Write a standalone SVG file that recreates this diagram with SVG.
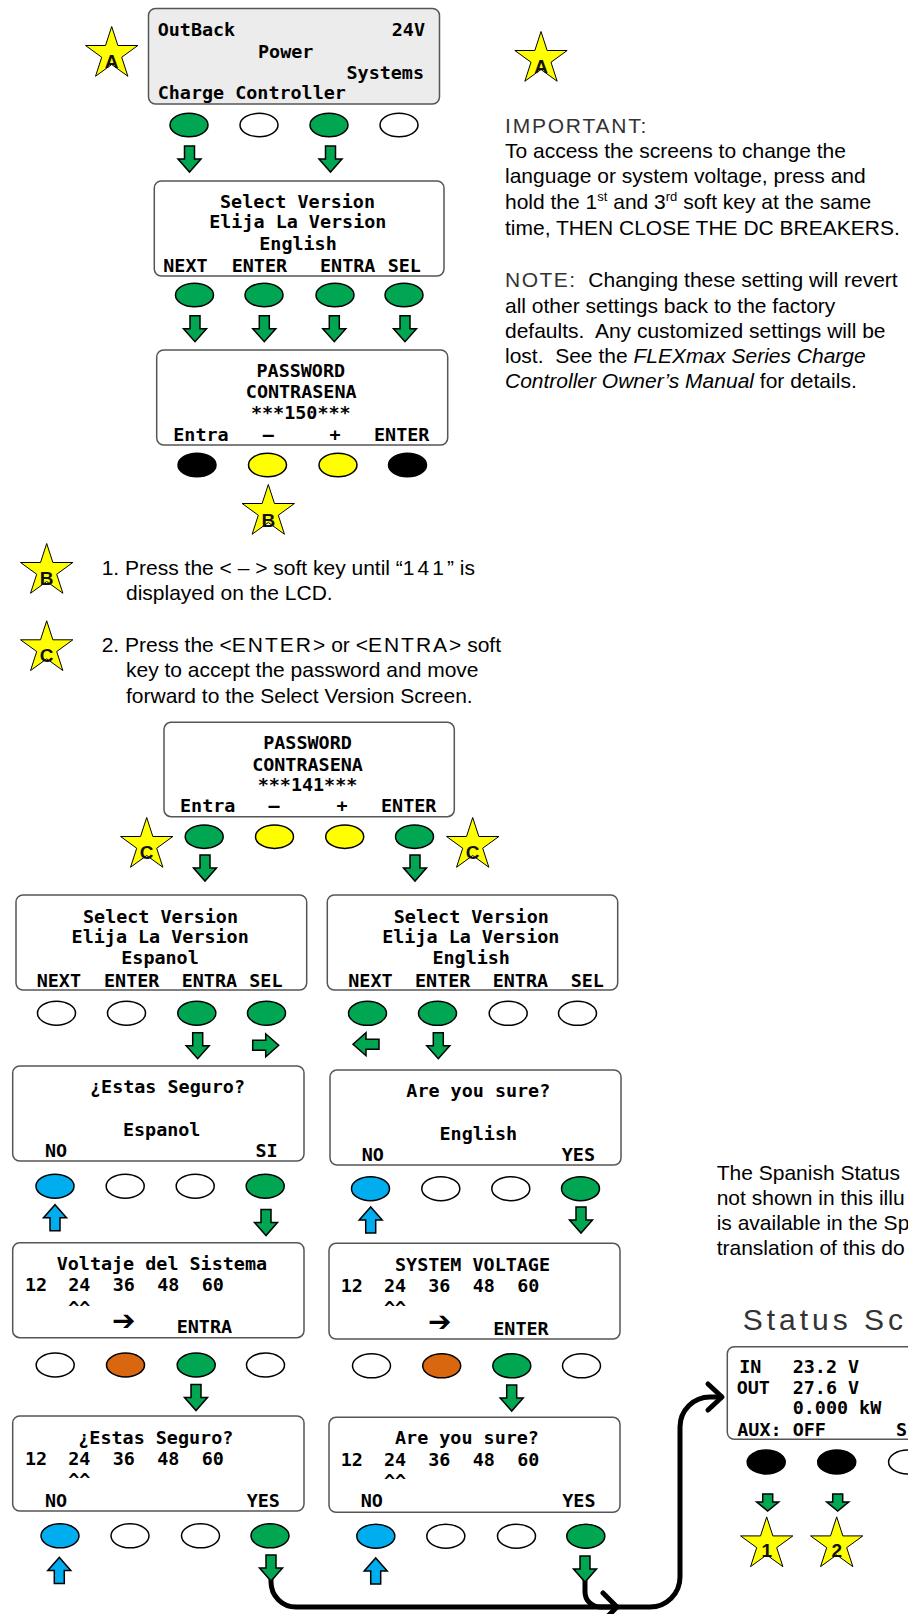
<svg xmlns="http://www.w3.org/2000/svg" xmlns:xlink="http://www.w3.org/1999/xlink" width="908" height="1614" viewBox="0 0 908 1614">
<defs>
<style>
.lcd{fill:#fff;stroke:#555;stroke-width:1.5}
.m{font-family:"DejaVu Sans Mono","Liberation Mono",monospace;font-weight:bold;font-size:18.4px;fill:#000}
.c{text-anchor:middle}
.e{text-anchor:end}
.t{font-family:"Liberation Sans",Arial,sans-serif;font-size:21px;fill:#000}
.ttl{font-family:"Liberation Sans",Arial,sans-serif;font-size:30px;letter-spacing:4px;fill:#333}
.h{fill:#333}
.i{font-style:italic}
.k{stroke:#000;stroke-width:1.5}
.g{fill:#00A651}
.w{fill:#fff}
.y{fill:#FFFF00}
.b{fill:#000}
.bl{fill:#00AEEF}
.o{fill:#D9670F}
.st{fill:#FFFF00;stroke:#000;stroke-width:1}
.sl{font-family:"Liberation Sans",Arial,sans-serif;font-weight:bold;font-size:19px;text-anchor:middle;fill:#111}
.ar{stroke:#000;stroke-width:1.5;stroke-linejoin:miter}
.ln{fill:none;stroke:#000;stroke-width:5;stroke-linecap:round;stroke-linejoin:round}
.sym{font-family:"DejaVu Sans",sans-serif;font-weight:bold;font-size:28px}
</style>
<path id="star" d="M0,-27.5 L6.17,-8.49 L26.15,-8.5 L9.99,3.24 L16.16,22.25 L0,10.5 L-16.16,22.25 L-9.99,3.24 L-26.15,-8.5 L-6.17,-8.49 Z"/>
<path id="ad" d="M-5,0 H5 V13 H11.5 L0,26 L-11.5,13 H-5 Z"/>
<path id="as" d="M-5,0 H5 V8 H11 L0,17 L-11,8 H-5 Z"/>
</defs>
<rect width="908" height="1614" fill="#fff"/>

<!-- Stars -->
<g id="starA1"><use xlink:href="#star" class="st" transform="translate(111.7,54)"/><text class="sl" x="111.5" y="68">A</text></g>
<g id="starA2"><use xlink:href="#star" class="st" transform="translate(541,59)"/><text class="sl" x="541" y="73">A</text></g>
<g id="starB1"><use xlink:href="#star" class="st" transform="translate(268.3,512)"/><text class="sl" x="268.3" y="526.5">B</text></g>
<g id="starB2"><use xlink:href="#star" class="st" transform="translate(46.7,571)"/><text class="sl" x="46.7" y="585">B</text></g>
<g id="starC1"><use xlink:href="#star" class="st" transform="translate(46.7,648.3)"/><text class="sl" x="46.7" y="662">C</text></g>
<g id="starC2"><use xlink:href="#star" class="st" transform="translate(146.7,845)"/><text class="sl" x="146.7" y="858.5">C</text></g>
<g id="starC3"><use xlink:href="#star" class="st" transform="translate(472.7,845)"/><text class="sl" x="472.7" y="858.5">C</text></g>
<g id="star1"><use xlink:href="#star" class="st" transform="translate(766.7,1544.4)"/><text class="sl" x="766.7" y="1557">1</text></g>
<g id="star2"><use xlink:href="#star" class="st" transform="translate(836.7,1544.4)"/><text class="sl" x="836.7" y="1557">2</text></g>

<!-- LCD 1 -->
<g id="lcd-outback">
<rect x="148.5" y="8.5" width="291" height="95.5" rx="7" class="lcd" style="fill:#ECECEC"/>
<text class="m" x="157.7" y="35.7">OutBack</text>
<text class="m e" x="425" y="35.7">24V</text>
<text class="m" x="258" y="58.3">Power</text>
<text class="m e" x="424" y="79">Systems</text>
<text class="m" x="157.7" y="99.3">Charge Controller</text>
<ellipse cx="189" cy="125" rx="19" ry="11.7" class="k g"/>
<ellipse cx="259" cy="125" rx="19" ry="11.7" class="k w"/>
<ellipse cx="329" cy="125" rx="19" ry="11.7" class="k g"/>
<ellipse cx="399" cy="125" rx="19" ry="11.7" class="k w"/>
</g>

<!-- LCD 2 -->
<g id="lcd-select1">
<rect x="154.3" y="181" width="289.7" height="95" rx="7" class="lcd"/>
<text class="m c" x="297.5" y="208.3">Select Version</text>
<text class="m c" x="297.8" y="228.3">Elija La Version</text>
<text class="m c" x="298" y="250">English</text>
<text class="m" x="163.3" y="271.7">NEXT</text>
<text class="m" x="231.7" y="271.7">ENTER</text>
<text class="m" x="320" y="271.7">ENTRA</text>
<text class="m" x="387.7" y="271.7">SEL</text>
<ellipse cx="194.5" cy="295" rx="19" ry="11.7" class="k g"/>
<ellipse cx="264" cy="295" rx="19" ry="11.7" class="k g"/>
<ellipse cx="335" cy="295" rx="19" ry="11.7" class="k g"/>
<ellipse cx="404" cy="295" rx="19" ry="11.7" class="k g"/>
</g>

<!-- LCD 3 -->
<g id="lcd-pass150">
<rect x="156.7" y="350" width="291" height="95" rx="7" class="lcd"/>
<text class="m c" x="300.8" y="376.7">PASSWORD</text>
<text class="m c" x="301.2" y="398.3">CONTRASENA</text>
<text class="m c" x="300.8" y="419.3">***150***</text>
<text class="m" x="173.3" y="440.7">Entra</text>
<text class="m c" x="268.3" y="440.7">–</text>
<text class="m c" x="335" y="440.7">+</text>
<text class="m" x="374" y="440.7">ENTER</text>
<ellipse cx="197" cy="465" rx="19" ry="11.7" class="k b"/>
<ellipse cx="267.5" cy="465" rx="19" ry="11.7" class="k y"/>
<ellipse cx="338" cy="465" rx="19" ry="11.7" class="k y"/>
<ellipse cx="407.5" cy="465" rx="19" ry="11.7" class="k b"/>
</g>

<!-- Right notes -->
<g id="note-important">
<text class="t h" x="505" y="133" letter-spacing="1.8">IMPORTANT:</text>
<text class="t" x="505" y="158.3">To access the screens to change the</text>
<text class="t" x="505" y="183.3">language or system voltage, press and</text>
<text class="t" x="505" y="209.3">hold the 1<tspan font-size="13" dy="-8">st</tspan><tspan dy="8"> and 3</tspan><tspan font-size="13" dy="-8">rd</tspan><tspan dy="8"> soft key at the same</tspan></text>
<text class="t" x="505" y="235">time, THEN CLOSE THE DC BREAKERS.</text>
<text class="t" x="505" y="286.7"><tspan class="h" letter-spacing="1.5">NOTE:</tspan>&#160; Changing these setting will revert</text>
<text class="t" x="505" y="312.7">all other settings back to the factory</text>
<text class="t" x="505" y="337.7">defaults.&#160; Any customized settings will be</text>
<text class="t" x="505" y="362.7">lost.&#160; See the <tspan class="i">FLEXmax Series Charge</tspan></text>
<text class="t" x="505" y="387.7"><tspan class="i">Controller Owner’s Manual</tspan> for details.</text>
</g>

<!-- Steps -->
<g id="steps">
<text class="t" x="101.7" y="575">1. Press the &lt; – &gt; soft key until “<tspan letter-spacing="3">141</tspan>” is</text>
<text class="t" x="126" y="600">displayed on the LCD.</text>
<text class="t" x="101.7" y="651.7">2. Press the &lt;<tspan letter-spacing="2">ENTER</tspan>&gt; or &lt;<tspan letter-spacing="2">ENTRA</tspan>&gt; soft</text>
<text class="t" x="126" y="677.3">key to accept the password and move</text>
<text class="t" x="126" y="703.3">forward to the Select Version Screen.</text>
</g>

<!-- LCD 4 -->
<g id="lcd-pass141">
<rect x="164" y="722.3" width="290.3" height="94.4" rx="7" class="lcd"/>
<text class="m c" x="307.5" y="749">PASSWORD</text>
<text class="m c" x="307.5" y="770.7">CONTRASENA</text>
<text class="m c" x="307.5" y="791">***141***</text>
<text class="m" x="180" y="812.3">Entra</text>
<text class="m c" x="274" y="812.3">–</text>
<text class="m c" x="342" y="812.3">+</text>
<text class="m" x="381" y="812.3">ENTER</text>
<ellipse cx="204.2" cy="836.7" rx="19" ry="11.7" class="k g"/>
<ellipse cx="274.5" cy="836.7" rx="19" ry="11.7" class="k y"/>
<ellipse cx="344.7" cy="836.7" rx="19" ry="11.7" class="k y"/>
<ellipse cx="414.5" cy="836.7" rx="19" ry="11.7" class="k g"/>
</g>

<!-- LCD 5 -->
<g id="lcd-select-es">
<rect x="16" y="895" width="290.7" height="95" rx="7" class="lcd"/>
<text class="m c" x="160.5" y="922.7">Select Version</text>
<text class="m c" x="160.2" y="943.3">Elija La Version</text>
<text class="m c" x="160" y="964.3">Espanol</text>
<text class="m" x="36.7" y="986.7">NEXT</text>
<text class="m" x="104" y="986.7">ENTER</text>
<text class="m" x="181.7" y="986.7">ENTRA</text>
<text class="m" x="249.3" y="986.7">SEL</text>
<ellipse cx="56.5" cy="1013.2" rx="19" ry="12" class="k w"/>
<ellipse cx="126.5" cy="1013.2" rx="19" ry="12" class="k w"/>
<ellipse cx="196.8" cy="1013.2" rx="19" ry="12" class="k g"/>
<ellipse cx="266.5" cy="1013.2" rx="19" ry="12" class="k g"/>
</g>

<!-- LCD 6 -->
<g id="lcd-select-en">
<rect x="327.3" y="895" width="290.4" height="95" rx="7" class="lcd"/>
<text class="m c" x="471.3" y="922.7">Select Version</text>
<text class="m c" x="470.8" y="943.3">Elija La Version</text>
<text class="m c" x="471.2" y="964.3">English</text>
<text class="m" x="348.3" y="986.7">NEXT</text>
<text class="m" x="415" y="986.7">ENTER</text>
<text class="m" x="492.7" y="986.7">ENTRA</text>
<text class="m" x="570.7" y="986.7">SEL</text>
<ellipse cx="367.5" cy="1013.3" rx="19" ry="12" class="k g"/>
<ellipse cx="437.5" cy="1013.3" rx="19" ry="12" class="k g"/>
<ellipse cx="508.2" cy="1013.3" rx="19" ry="12" class="k w"/>
<ellipse cx="577.5" cy="1013.3" rx="19" ry="12" class="k w"/>
</g>

<!-- LCD 7 -->
<g id="lcd-seguro-lang">
<rect x="12.7" y="1066" width="291.3" height="95" rx="7" class="lcd"/>
<text class="m c" x="167.5" y="1093.3">¿Estas Seguro?</text>
<text class="m c" x="161.7" y="1136">Espanol</text>
<text class="m" x="45" y="1157.3">NO</text>
<text class="m e" x="277.7" y="1157.3">SI</text>
<ellipse cx="55" cy="1186.2" rx="19" ry="12" class="k bl"/>
<ellipse cx="125.2" cy="1186.2" rx="19" ry="12" class="k w"/>
<ellipse cx="195.2" cy="1186.2" rx="19" ry="12" class="k w"/>
<ellipse cx="265.2" cy="1186.2" rx="19" ry="12" class="k g"/>
</g>

<!-- LCD 8 -->
<g id="lcd-sure-lang">
<rect x="330" y="1070" width="291" height="95" rx="7" class="lcd"/>
<text class="m c" x="478.3" y="1096.7">Are you sure?</text>
<text class="m c" x="478.3" y="1140">English</text>
<text class="m" x="361.7" y="1160.7">NO</text>
<text class="m e" x="595" y="1160.7">YES</text>
<ellipse cx="370.5" cy="1188.7" rx="19" ry="12" class="k bl"/>
<ellipse cx="440.8" cy="1188.7" rx="19" ry="12" class="k w"/>
<ellipse cx="510.8" cy="1188.7" rx="19" ry="12" class="k w"/>
<ellipse cx="580.5" cy="1188.7" rx="19" ry="12" class="k g"/>
</g>

<!-- LCD 9 -->
<g id="lcd-voltaje">
<rect x="12.7" y="1242.7" width="291.3" height="95" rx="7" class="lcd"/>
<text class="m" x="56.7" y="1270">Voltaje del Sistema</text>
<text class="m" x="25" y="1291">12</text>
<text class="m" x="68.3" y="1291">24</text>
<text class="m" x="112.7" y="1291">36</text>
<text class="m" x="157.3" y="1291">48</text>
<text class="m" x="201.7" y="1291">60</text>
<text class="m" x="68.3" y="1313.5">^^</text>
<text class="sym" x="112" y="1330">➔</text>
<text class="m" x="176.7" y="1333.3">ENTRA</text>
<ellipse cx="55.2" cy="1365" rx="19" ry="12" class="k w"/>
<ellipse cx="125.5" cy="1365" rx="19" ry="12" class="k o"/>
<ellipse cx="196.2" cy="1365" rx="19" ry="12" class="k g"/>
<ellipse cx="265.5" cy="1365" rx="19" ry="12" class="k w"/>
</g>

<!-- LCD 10 -->
<g id="lcd-voltage">
<rect x="329" y="1243.3" width="291" height="95.7" rx="7" class="lcd"/>
<text class="m" x="395" y="1271">SYSTEM VOLTAGE</text>
<text class="m" x="340.7" y="1291.7">12</text>
<text class="m" x="384" y="1291.7">24</text>
<text class="m" x="428.3" y="1291.7">36</text>
<text class="m" x="472.7" y="1291.7">48</text>
<text class="m" x="517.3" y="1291.7">60</text>
<text class="m" x="384" y="1314">^^</text>
<text class="sym" x="428" y="1331">➔</text>
<text class="m" x="493.3" y="1335">ENTER</text>
<ellipse cx="371.5" cy="1365.8" rx="19" ry="12" class="k w"/>
<ellipse cx="441.7" cy="1365.8" rx="19" ry="12" class="k o"/>
<ellipse cx="511.8" cy="1365.8" rx="19" ry="12" class="k g"/>
<ellipse cx="581.5" cy="1365.8" rx="19" ry="12" class="k w"/>
</g>

<!-- LCD 11 -->
<g id="lcd-seguro-volt">
<rect x="12.7" y="1416" width="291.3" height="95" rx="7" class="lcd"/>
<text class="m" x="78.3" y="1444.3">¿Estas Seguro?</text>
<text class="m" x="25" y="1465">12</text>
<text class="m" x="68.3" y="1465">24</text>
<text class="m" x="112.7" y="1465">36</text>
<text class="m" x="157.3" y="1465">48</text>
<text class="m" x="201.7" y="1465">60</text>
<text class="m" x="68.3" y="1486">^^</text>
<text class="m" x="45" y="1507.3">NO</text>
<text class="m" x="246.7" y="1507.3">YES</text>
<ellipse cx="60" cy="1535.8" rx="19" ry="12" class="k bl"/>
<ellipse cx="130" cy="1535.8" rx="19" ry="12" class="k w"/>
<ellipse cx="200.5" cy="1535.8" rx="19" ry="12" class="k w"/>
<ellipse cx="270" cy="1535.8" rx="19" ry="12" class="k g"/>
</g>

<!-- LCD 12 -->
<g id="lcd-sure-volt">
<rect x="329" y="1417.3" width="291" height="95" rx="7" class="lcd"/>
<text class="m" x="395" y="1444.3">Are you sure?</text>
<text class="m" x="340.7" y="1465.7">12</text>
<text class="m" x="384" y="1465.7">24</text>
<text class="m" x="428.3" y="1465.7">36</text>
<text class="m" x="472.7" y="1465.7">48</text>
<text class="m" x="517.3" y="1465.7">60</text>
<text class="m" x="384" y="1487">^^</text>
<text class="m" x="360.7" y="1507.3">NO</text>
<text class="m" x="562.3" y="1507.3">YES</text>
<ellipse cx="375.8" cy="1536.2" rx="19" ry="12" class="k bl"/>
<ellipse cx="445.8" cy="1536.2" rx="19" ry="12" class="k w"/>
<ellipse cx="516.5" cy="1536.2" rx="19" ry="12" class="k w"/>
<ellipse cx="585.8" cy="1536.2" rx="19" ry="12" class="k g"/>
</g>

<!-- Spanish status note -->
<g id="note-spanish">
<text class="t" x="716.7" y="1180">The Spanish Status</text>
<text class="t" x="716.7" y="1205">not shown in this illu</text>
<text class="t" x="716.7" y="1230">is available in the Sp</text>
<text class="t" x="716.7" y="1255">translation of this do</text>
</g>

<!-- Status screen -->
<g id="status-screen">
<text class="ttl" x="742.7" y="1330">Status Sc</text>
<rect x="727.3" y="1346.7" width="200" height="92.6" rx="7" class="lcd"/>
<text class="m" x="739.3" y="1373.3">IN</text>
<text class="m" x="792.7" y="1373.3">23.2 V</text>
<text class="m" x="736.7" y="1394.3">OUT</text>
<text class="m" x="792.7" y="1394.3">27.6 V</text>
<text class="m" x="792.7" y="1414.3">0.000 kW</text>
<text class="m" x="737.3" y="1436">AUX:</text>
<text class="m" x="792.7" y="1436">OFF</text>
<text class="m" x="896" y="1436">S</text>
<ellipse cx="766.2" cy="1462" rx="19" ry="12" class="k b"/>
<ellipse cx="836.7" cy="1462" rx="19" ry="12" class="k b"/>
<ellipse cx="907.6" cy="1462" rx="19" ry="12" class="k w"/>
</g>

<!-- Connectors -->
<g id="connectors">
<path class="ln" d="M271,1580 V1582 A25,25 0 0 0 296,1607 H650 A30,30 0 0 0 680,1577 V1427 A30,30 0 0 1 710,1397 H721"/>
<path class="ln" d="M708,1384 L722,1397 L708,1410"/>
<path class="ln" d="M585,1581 V1592 A15,15 0 0 0 600,1607 H615"/>
<path class="ln" d="M603,1593 L617,1607 L603,1621"/>
<g class="ar g">
<use xlink:href="#ad" transform="translate(189.5,146)"/>
<use xlink:href="#ad" transform="translate(330.5,146)"/>
<use xlink:href="#ad" transform="translate(195,315.7)"/>
<use xlink:href="#ad" transform="translate(264.3,315.7)"/>
<use xlink:href="#ad" transform="translate(334.3,315.7)"/>
<use xlink:href="#ad" transform="translate(405,315.7)"/>
<use xlink:href="#ad" transform="translate(205,855)"/>
<use xlink:href="#ad" transform="translate(415,855)"/>
<use xlink:href="#ad" transform="translate(197.7,1032.7)"/>
<use xlink:href="#ad" transform="translate(252.7,1045.3) rotate(-90)"/>
<use xlink:href="#ad" transform="translate(379,1044.2) rotate(90)"/>
<use xlink:href="#ad" transform="translate(438.3,1032.7)"/>
<use xlink:href="#ad" transform="translate(266,1209.5)"/>
<use xlink:href="#ad" transform="translate(581,1207)"/>
<use xlink:href="#ad" transform="translate(196,1384.5)"/>
<use xlink:href="#ad" transform="translate(511.7,1385)"/>
<use xlink:href="#ad" transform="translate(271,1555)"/>
<use xlink:href="#ad" transform="translate(585,1556)"/>
<use xlink:href="#as" transform="translate(767.7,1494)"/>
<use xlink:href="#as" transform="translate(837.7,1494)"/>
</g>
<g class="ar bl">
<use xlink:href="#ad" transform="translate(55,1230.7) rotate(180)"/>
<use xlink:href="#ad" transform="translate(370.7,1233) rotate(180)"/>
<use xlink:href="#ad" transform="translate(59.3,1583.5) rotate(180)"/>
<use xlink:href="#ad" transform="translate(375.7,1584) rotate(180)"/>
</g>
</g>
</svg>
